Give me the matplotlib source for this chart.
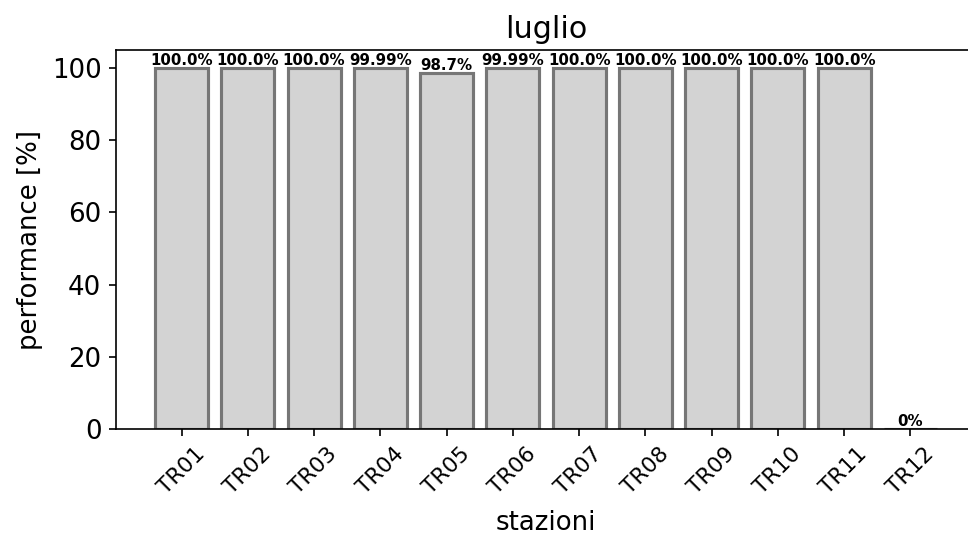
import matplotlib
matplotlib.use("Agg")
import matplotlib.pyplot as plt

stazioni = ["TR01", "TR02", "TR03", "TR04", "TR05", "TR06",
            "TR07", "TR08", "TR09", "TR10", "TR11", "TR12"]
performance = [100.0, 100.0, 100.0, 99.99, 98.7, 99.99,
               100.0, 100.0, 100.0, 100.0, 100.0, 0.0]
etichette = ["100.0%", "100.0%", "100.0%", "99.99%", "98.7%", "99.99%",
             "100.0%", "100.0%", "100.0%", "100.0%", "100.0%", "0%"]

fig = plt.figure(figsize=(968 / 150, 538 / 150), dpi=150)
ax = fig.add_axes([116 / 968, 109 / 538, 860 / 968, 379 / 538])

x = range(len(stazioni))
bars = ax.bar(x, performance, width=0.8, color="lightgrey",
              edgecolor="#767676", linewidth=1.5)
for bar, lab in zip(bars, etichette):
    ax.text(bar.get_x() + bar.get_width() / 2, bar.get_height(), lab,
            ha="center", va="bottom", fontsize=7.2, fontweight="bold")

ax.set_xticks(list(x))
ax.set_xticklabels(stazioni, rotation=45, fontsize=10.5)
ax.tick_params(axis="y", labelsize=12.5)
ax.set_xlabel("stazioni", fontsize=12.5, labelpad=6)
ax.set_ylabel("performance [%]", fontsize=12.5)
ax.set_title("luglio", fontsize=14.5)

fig.savefig("out.png", dpi=150)
